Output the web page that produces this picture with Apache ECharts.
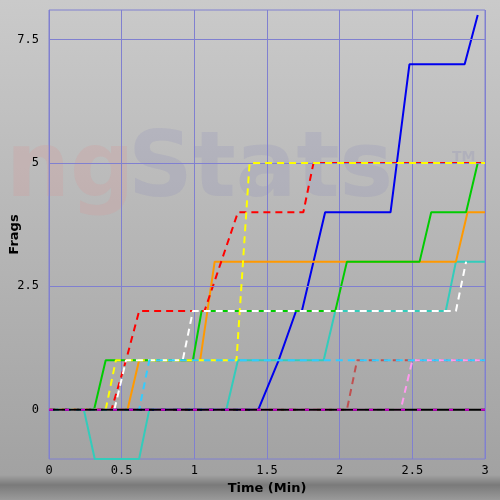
<!DOCTYPE html>
<html>
<head>
<meta charset="UTF-8">
<script src="https://cdn.jsdelivr.net/npm/echarts@6/dist/echarts.min.js"></script>
<style>
  html, body { margin: 0; padding: 0; }
  #chart { width: 500px; height: 500px; }
</style>
</head>
<body>
<div id="chart"></div>
<script>
// Frags over time, one [time, frags] list per player
var blue    = [[0,0],[1.44,0],[1.58,1],[1.7,2],[1.74,2],[1.9,4],[2.35,4],[2.48,7],[2.86,7],[2.95,8]];
var red     = [[0,0],[0.43,0],[0.53,1],[0.62,2],[1.07,2],[1.3,4],[1.75,4],[1.82,5],[3,5]];
var yellow  = [[0,0],[0.39,0],[0.46,1],[1.29,1],[1.38,5],[3,5]];
var white   = [[0,0],[0.45,0],[0.53,1],[0.92,1],[0.99,2],[2.8,2],[2.87,3]];
var green   = [[0,0],[0.31,0],[0.39,1],[0.99,1],[1.05,2],[1.97,2],[2.05,3],[2.55,3],[2.63,4],[2.87,4],[2.95,5]];
var orange  = [[0,0],[0.54,0],[0.62,1],[1.04,1],[1.14,3],[2.8,3],[2.88,4],[3,4]];
var skyblue = [[0,0],[0.62,0],[0.69,1],[3,1]];
var teal    = [[0,0],[0.24,0],[0.315,-1],[0.62,-1],[0.69,0],[1.22,0],[1.3,1],[1.89,1],[1.97,2],[2.73,2],[2.8,3],[3,3]];
var brown   = [[0,0],[2.05,0],[2.12,1],[3,1]];
var pink    = [[0,0],[2.42,0],[2.5,1],[3,1]];
var black   = [[0,0],[3,0]];
var magenta = [[0,0],[3,0]];

var xTicks = [0, 0.5, 1, 1.5, 2, 2.5, 3];
var yTicks = [0, 2.5, 5, 7.5];

var dash = [7, 5];
function ser(data, color, dashed, z) {
  return {
    type: 'line', data: data, showSymbol: false, symbol: 'none', z: z || 2,
    lineStyle: { color: color, width: 2, type: dashed ? dash : 'solid', dashOffset: dashed ? (z || 0) * 3 : 0 }
  };
}

var chart = echarts.init(document.getElementById('chart'));
chart.setOption({
  animation: false,
  backgroundColor: {
    type: 'linear', x: 0, y: 0, x2: 0, y2: 1,
    colorStops: [{ offset: 0, color: '#cacaca' }, { offset: 0.95, color: '#a2a2a2' }, { offset: 0.97, color: '#7a7a7a' }, { offset: 1, color: '#9a9a9a' }]
  },
  graphic: [
    { type: 'text', left: 6, top: 128, z: 0, style: { text: 'ng', font: 'bold 90px "DejaVu Sans"', fill: 'rgba(215,150,150,0.25)' } },
    { type: 'text', left: 128, top: 128, z: 0, style: { text: 'Stats', font: 'bold 90px "DejaVu Sans"', fill: 'rgba(140,140,185,0.22)' } },
    { type: 'text', left: 452, top: 150, z: 0, style: { text: 'TM', font: 'bold 14px "DejaVu Sans"', fill: 'rgba(140,140,185,0.25)' } }
  ],
  grid: { left: 47, right: 15, top: 10, bottom: 40, show: true, borderColor: '#8080d0', borderWidth: 1 },
  xAxis: {
    type: 'value', min: 0, max: 3, interval: 0.5,
    name: 'Time (Min)', nameLocation: 'middle', nameGap: 23,
    nameTextStyle: { fontWeight: 'bold', fontSize: 13, color: '#000', fontFamily: 'DejaVu Sans' },
    axisLine: { show: false }, axisTick: { show: false },
    axisLabel: { color: '#000', fontSize: 12, fontFamily: 'DejaVu Sans Mono', margin: 6,
      formatter: function (v) { return xTicks.indexOf(v) >= 0 ? String(v) : ''; } },
    splitLine: { lineStyle: { color: '#8080d0', width: 1 } }
  },
  yAxis: {
    type: 'value', min: -1, max: 8.1,
    name: 'Frags', nameLocation: 'middle', nameGap: 28,
    nameTextStyle: { fontWeight: 'bold', fontSize: 13, color: '#000', fontFamily: 'DejaVu Sans' },
    axisLine: { show: false }, axisTick: { show: false },
    axisLabel: { show: false },
    splitLine: { show: false }
  },
  series: [
    ser(teal, '#33ccbb', false, 2),
    ser(blue, '#0000ee', false, 3),
    ser(orange, '#ff9900', false, 3),
    ser(green, '#00cc00', false, 3),
    ser(red, '#ff0000', true, 4),
    ser(yellow, '#ffff00', true, 5),
    ser(white, '#ffffff', true, 6),
    ser(skyblue, '#33ccff', true, 7),
    ser(brown, '#c05050', true, 4),
    ser(pink, '#ff99ee', true, 5),
    ser(black, '#000000', false, 8),
    {
      type: 'line', data: magenta, showSymbol: false, symbol: 'none', z: 9,
      lineStyle: { color: '#cc00cc', width: 2, type: [4, 12], dashOffset: 0 }
    },
    {
      type: 'line', data: [], silent: true,
      markLine: {
        symbol: 'none', silent: true,
        lineStyle: { color: '#8080d0', width: 1, type: 'solid' },
        label: { position: 'start', color: '#000', fontSize: 12, fontFamily: 'DejaVu Sans Mono', distance: 10 },
        data: yTicks.map(function (v) { return { yAxis: v, label: { formatter: String(v) } }; })
      }
    }
  ]
});
</script>
</body>
</html>
